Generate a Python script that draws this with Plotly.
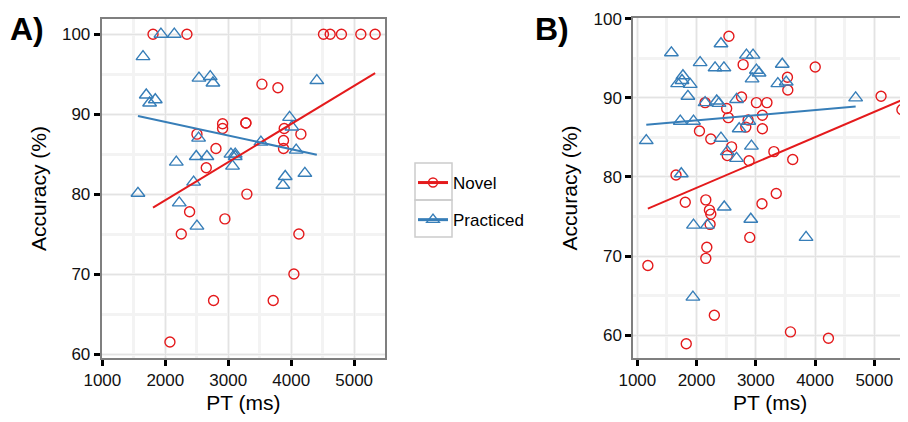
import numpy as np
import plotly.graph_objects as go

# ---------------- data ----------------
novel_a_pt = [1805, 2344, 3535, 3789, 2910, 2910, 3280, 3280, 2503, 2805, 2651, 3889, 4154,
              3878, 3878, 4513, 4619, 4798, 5106, 5333, 3296, 2386, 2947, 2254, 4122, 4043,
              2767, 3714, 2074]
novel_a_acc = [100, 100, 93.75, 93.3, 88.8, 88.2, 88.9, 88.9, 87.5, 85.7, 83.3, 88.2, 87.5,
               86.7, 85.7, 100, 100, 100, 100, 100, 80.0, 77.8, 76.9, 75.0, 75.0, 70.0,
               66.7, 66.7, 61.5]

prac_a_pt = [1931, 2143, 1646, 2535, 2714, 2757, 4407, 1698, 1841, 1751, 3974, 4011, 2529,
             3519, 4079, 2175, 2492, 2661, 3043, 3111, 3111, 3068, 3905, 4217, 3868, 2450,
             1566, 2222, 2503]
prac_a_acc = [100, 100, 97.2, 94.5, 94.7, 93.9, 94.2, 92.4, 91.8, 91.4, 89.6, 88.4, 87.0,
              86.5, 85.5, 84.0, 84.7, 84.7, 85.0, 85.0, 84.7, 83.5, 82.2, 82.6, 81.1, 81.5,
              80.1, 78.9, 76.0]

novel_b_pt = [2546, 2786, 2144, 2508, 2759, 3010, 3188, 2535, 3111, 2870, 2831, 3111, 2049,
              2240, 2591, 2518, 2886, 1653, 4003, 3534, 3540, 3305, 3623, 5114, 5466, 3345,
              3104, 3585, 4226, 1809, 2156, 2217, 2240, 2228, 2898, 2173, 2156, 1178, 2300,
              1826]
novel_b_acc = [97.8, 94.2, 89.4, 88.65, 90.1, 89.4, 89.4, 87.5, 87.8, 87.2, 86.3, 86.1, 85.8,
               84.8, 83.8, 82.7, 82.05, 80.25, 93.9, 92.6, 91.0, 83.2, 82.2, 90.2, 88.5, 77.9,
               76.6, 60.4, 59.6, 76.8, 77.1, 75.8, 75.3, 74.0, 72.35, 71.1, 69.7, 68.8, 62.5,
               58.9]

prac_b_pt = [2412, 1575, 2060, 2312, 2462, 2842, 2953, 3010, 3055, 2937, 1770, 1754, 1680,
             1893, 1854, 2144, 2340, 2379, 2675, 1725, 1948, 2881, 2719, 1151, 2412, 2926,
             2518, 2675, 1742, 3446, 3372, 3513, 4685, 3848, 2467, 1948, 2183, 2915, 1938]
prac_b_acc = [96.85, 95.7, 94.45, 93.8, 93.8, 95.4, 95.4, 93.5, 93.15, 92.4, 92.8, 92.2, 91.8,
              91.7, 90.2, 89.4, 89.6, 89.3, 89.8, 87.05, 87.05, 87.05, 86.1, 84.6, 84.9, 83.9,
              83.2, 82.35, 80.4, 94.25, 91.8, 92.0, 90.0, 72.35, 76.2, 73.9, 73.9, 74.65, 64.8]

series_names = ["Novel", "Practiced"]
x_ticks = [1000, 2000, 3000, 4000, 5000]
y_ticks = [60, 70, 80, 90, 100]

RED = "#E41A1C"
BLUE = "#377EB8"


def fit_line(x, y):
    x = np.asarray(x, float)
    y = np.asarray(y, float)
    slope, icpt = np.polyfit(x, y, 1)
    xs = np.array([x.min(), x.max()])
    return xs, slope * xs + icpt


fig = go.Figure()

panels = [
    ("x", "y", novel_a_pt, novel_a_acc, prac_a_pt, prac_a_acc),
    ("x2", "y2", novel_b_pt, novel_b_acc, prac_b_pt, prac_b_acc),
]
for xa, ya, npt, nacc, ppt, pacc in panels:
    fig.add_trace(go.Scatter(x=npt, y=nacc, mode="markers", xaxis=xa, yaxis=ya,
                             marker=dict(symbol="circle-open", size=10, color=RED,
                                         line=dict(width=1.4, color=RED)),
                             showlegend=False, hoverinfo="skip"))
    fig.add_trace(go.Scatter(x=ppt, y=pacc, mode="markers", xaxis=xa, yaxis=ya,
                             marker=dict(symbol="triangle-up-open", size=12, color=BLUE,
                                         line=dict(width=1.4, color=BLUE)),
                             showlegend=False, hoverinfo="skip"))
    fx, fy = fit_line(npt, nacc)
    fig.add_trace(go.Scatter(x=fx, y=fy, mode="lines", xaxis=xa, yaxis=ya,
                             line=dict(color=RED, width=2), showlegend=False,
                             hoverinfo="skip"))
    fx, fy = fit_line(ppt, pacc)
    fig.add_trace(go.Scatter(x=fx, y=fy, mode="lines", xaxis=xa, yaxis=ya,
                             line=dict(color=BLUE, width=2), showlegend=False,
                             hoverinfo="skip"))

# legend entries
fig.add_trace(go.Scatter(x=[None], y=[None], mode="lines+markers", name=series_names[0],
                         legendgroup="n",
                         line=dict(color=RED, width=3),
                         marker=dict(symbol="circle-open", size=9, color=RED,
                                     line=dict(width=1.4, color=RED))))
fig.add_trace(go.Scatter(x=[None], y=[None], mode="lines+markers", name=series_names[1],
                         legendgroup="p",
                         line=dict(color=BLUE, width=3),
                         marker=dict(symbol="triangle-up-open", size=11, color=BLUE,
                                     line=dict(width=1.4, color=BLUE))))

# page has an 8px body margin: figure sits at (8, 8) in the 908x422 window
OFF = 8
W, H = 908 - OFF, 422 - OFF
FONT = "Liberation Sans, Arial, Helvetica, sans-serif"


def fx_(px):
    return (px - OFF) / W


def fy_(py):
    return 1 - (py - OFF) / H


def axis_common():
    return dict(
        automargin=False,
        showline=True, mirror=True, linecolor="#7f7f7f", linewidth=2,
        ticks="outside", ticklen=6, tickwidth=2.5, tickcolor="#000000",
        showgrid=True, gridcolor="#e3e3e3", gridwidth=1,
        zeroline=False,
        tickfont=dict(family=FONT, size=17, color="#111111"),
        title_font=dict(family=FONT, size=21, color="#000000"),
    )


xa = axis_common()
xa.update(domain=[fx_(101.7), fx_(385)], range=[990, 5490], tickvals=x_ticks,
          minor=dict(dtick=500, tick0=500, showgrid=True, gridcolor="#f3f3f3", gridwidth=2.5),
          title=dict(text="PT (ms)", standoff=6), anchor="y")
ya = axis_common()
ya.update(domain=[fy_(358), fy_(19)], range=[59.5, 101.9], tickvals=y_ticks,
          minor=dict(dtick=5, tick0=55, showgrid=True, gridcolor="#f3f3f3", gridwidth=2.5),
          title=dict(text="Accuracy (%)", standoff=10), anchor="x")
xb = axis_common()
xb.update(domain=[fx_(633.3), fx_(907)], range=[932, 5552], tickvals=x_ticks,
          minor=dict(dtick=500, tick0=500, showgrid=True, gridcolor="#f3f3f3", gridwidth=2.5),
          title=dict(text="PT (ms)", standoff=6), anchor="y2")
yb = axis_common()
yb.update(domain=[fy_(358), fy_(18)], range=[57.1, 100.1], tickvals=y_ticks,
          minor=dict(dtick=5, tick0=55, showgrid=True, gridcolor="#f3f3f3", gridwidth=2.5),
          title=dict(text="Accuracy (%)", standoff=10), anchor="x2")

# legend key boxes (ggplot-style)
shapes = []
for top in (163, 200):
    shapes.append(dict(type="rect", xref="paper", yref="paper",
                       x0=fx_(415), x1=fx_(452), y0=fy_(top + 37), y1=fy_(top),
                       line=dict(color="#cccccc", width=1.5), fillcolor="rgba(0,0,0,0)",
                       layer="below"))

fig.update_layout(
    width=W, height=H,
    margin=dict(l=0, r=0, t=0, b=0, autoexpand=False),
    paper_bgcolor="white", plot_bgcolor="white",
    xaxis=xa, yaxis=ya, xaxis2=xb, yaxis2=yb,
    showlegend=True,
    legend=dict(x=fx_(413), y=fy_(165), xanchor="left", yanchor="top",
                font=dict(family=FONT, size=17, color="#000000"),
                bgcolor="rgba(0,0,0,0)", tracegroupgap=12, itemwidth=30,
                traceorder="grouped"),
    shapes=shapes,
    annotations=[
        dict(text="<b>A)</b>", x=fx_(8), y=fy_(9), xref="paper", yref="paper",
             xanchor="left", yanchor="top", showarrow=False,
             font=dict(family=FONT, size=32, color="#000000")),
        dict(text="<b>B)</b>", x=fx_(533), y=fy_(9), xref="paper", yref="paper",
             xanchor="left", yanchor="top", showarrow=False,
             font=dict(family=FONT, size=32, color="#000000")),
    ],
)

fig.write_html("out.html")
